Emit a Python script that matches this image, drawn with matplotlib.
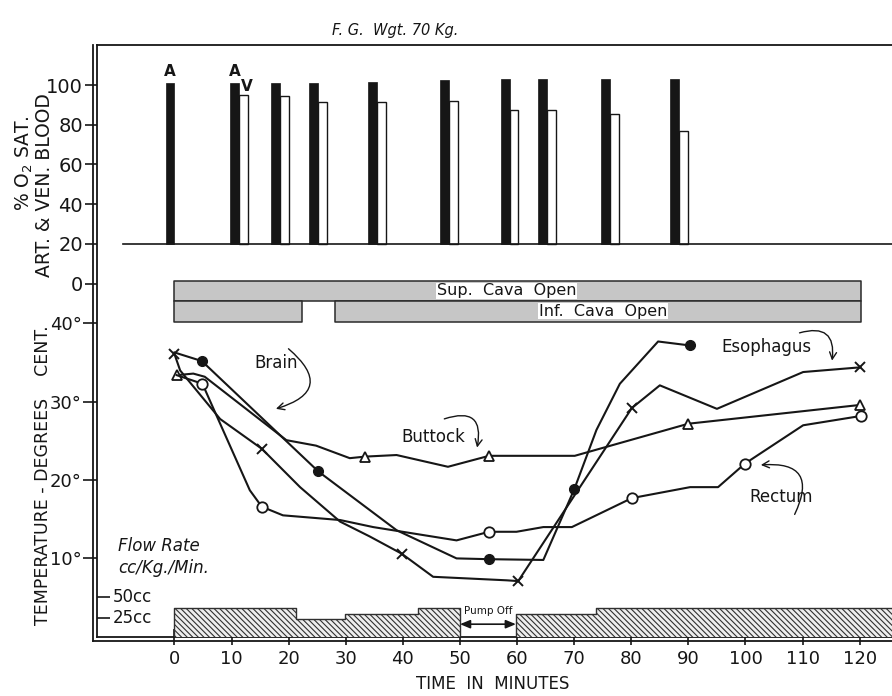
"""
Perfusion record F.G. - O2 saturation, cava status, temperatures and flow rate
"""
import numpy as np
import matplotlib.pyplot as plt

# O2 saturation samples, time in minutes and % saturation
O2_TIMES = [0, 11.3, 18.5, 25.1, 35.5, 48.1, 58.7, 65.2, 76.3, 88.3]
ART_SAT = [101.0, 101.0, 101.2, 101.2, 101.7, 102.5, 102.9, 102.9, 102.9, 102.9]
VEN_SAT = [np.nan, 95.0, 94.5, 91.3, 91.3, 92.1, 87.4, 87.4, 85.2, 77.0]

# cava open periods (start, length) in minutes
SUP_CAVA_OPEN = [(0, 120.3)]
INF_CAVA_OPEN = [(0, 22.3), (28.1, 92.2)]

# temperatures in degrees C, with indices of the plotted sample marks
BRAIN_T = [0, 4.8, 25.2, 38.9, 49.4, 55.0, 64.6, 70.0, 73.9, 78.0, 84.7, 90.2]
BRAIN_C = [36.3, 35.2, 21.1, 13.6, 10.0, 9.9, 9.8, 18.8, 26.4, 32.3, 37.7, 37.2]
BRAIN_MARKS = [1, 2, 5, 7, 11]

ESOPH_T = [0, 1.0, 8.0, 15.3, 22.0, 29.0, 34.2, 39.8, 45.3, 58.2, 60.2, 80.1, 85.0, 95.0, 110.1, 120.1]
ESOPH_C = [36.1, 34.0, 27.8, 24.0, 19.1, 14.7, 12.8, 10.6, 7.65, 7.2, 7.1, 29.2, 32.1, 29.1, 33.8, 34.4]
ESOPH_MARKS = [0, 3, 7, 10, 11, 15]

BUTTOCK_T = [0.4, 3.3, 5.3, 19.6, 24.8, 30.7, 33.4, 38.9, 47.9, 55.1, 70.1, 79.8, 90.0, 120.1]
BUTTOCK_C = [33.4, 33.6, 33.2, 25.1, 24.4, 22.8, 23.0, 23.2, 21.7, 23.1, 23.1, 25.1, 27.2, 29.6]
BUTTOCK_MARKS = [0, 6, 9, 12, 13]

RECTUM_T = [0.4, 4.9, 7.7, 13.2, 15.3, 19.0, 29.0, 34.8, 49.4, 55.1, 59.9, 64.6, 69.6,
            80.1, 90.3, 95.2, 99.9, 110.1, 120.3]
RECTUM_C = [33.4, 32.3, 27.7, 18.7, 16.6, 15.5, 14.9, 14.0, 12.3, 13.4, 13.4, 14.0, 14.0,
            17.7, 19.1, 19.1, 22.1, 27.0, 28.2]
RECTUM_MARKS = [1, 4, 9, 13, 16, 18]

# pump flow, cc/Kg./Min., each value holds from its time to the next
FLOW_T = [0, 21.2, 29.9, 42.7, 50.0, 59.8, 73.9, 126.0]
FLOW_RATE = [37, 24, 30.5, 37, 0, 30, 37, 37]

TIME_TICKS = list(range(0, 121, 10))
TEMP_TICKS = [10, 20, 30, 40]
O2_TICKS = [0, 20, 40, 60, 80, 100]
FLOW_TICKS = [25, 50]

INK = '#161616'


def overlay_axes(fig, pos, ax):
    """Transparent axes on top of the main one, sharing the time scale."""
    a = fig.add_axes(pos, sharex=ax)
    a.patch.set_visible(False)
    for s in a.spines.values():
        s.set_visible(False)
    a.xaxis.set_visible(False)
    return a


def create_chart():
    fig = plt.figure(figsize=(8.92, 6.96), dpi=100)
    pos = [0.1087, 0.0852, 0.8913, 0.8501]

    ax = fig.add_axes(pos)
    ax.set_xlim(-13.57, 125.66)
    ax.set_ylim(0, 75.56)
    for side in ['left', 'bottom', 'top']:
        ax.spines[side].set_linewidth(1.3)
        ax.spines[side].set_color(INK)
    ax.spines['right'].set_visible(False)
    # double rules on left and bottom
    ax.plot([-0.005, -0.005], [-0.008, 1.0], transform=ax.transAxes, color=INK,
            lw=1.3, clip_on=False)
    ax.plot([-0.005, 1.0], [-0.008, -0.008], transform=ax.transAxes, color=INK,
            lw=1.3, clip_on=False)

    ax.set_xticks(TIME_TICKS)
    ax.set_xticklabels([str(t) for t in TIME_TICKS], fontsize=13)
    ax.tick_params(axis='x', direction='inout', length=11, width=1.2, pad=4, colors=INK)
    ax.set_yticks(TEMP_TICKS)
    ax.set_yticklabels([f'{t}°' for t in TEMP_TICKS], fontsize=13)
    ax.tick_params(axis='y', direction='out', length=10, width=1.2, pad=1, colors=INK)

    # cava status bars
    ax.broken_barh(SUP_CAVA_OPEN, (42.9, 2.5), facecolors='#c6c6c6', edgecolors='#2a2a2a', lw=1.1)
    ax.broken_barh(INF_CAVA_OPEN, (40.2, 2.7), facecolors='#c6c6c6', edgecolors='#2a2a2a', lw=1.1)
    box = dict(facecolor='white', edgecolor='none', pad=0.5)
    ax.text(58.2, 44.15, 'Sup.  Cava  Open', ha='center', va='center', fontsize=11.5,
            color=INK, bbox=box)
    ax.text(75.0, 41.55, 'Inf.  Cava  Open', ha='center', va='center', fontsize=11.5,
            color=INK, bbox=box)

    # temperature curves
    line_kw = dict(color=INK, lw=1.5, markeredgecolor=INK, clip_on=False)
    ax.plot(BRAIN_T, BRAIN_C, marker='o', ms=7, markerfacecolor=INK,
            markevery=BRAIN_MARKS, **line_kw)
    ax.plot(ESOPH_T, ESOPH_C, marker='x', ms=7, mew=1.4,
            markevery=ESOPH_MARKS, **line_kw)
    ax.plot(BUTTOCK_T, BUTTOCK_C, marker='^', ms=7.5, mew=1.3, markerfacecolor='white',
            markevery=BUTTOCK_MARKS, **line_kw)
    ax.plot(RECTUM_T, RECTUM_C, marker='o', ms=7.5, mew=1.3, markerfacecolor='white',
            markevery=RECTUM_MARKS, **line_kw)

    # labels with curled arrows
    arrow = dict(arrowstyle='->,head_length=0.5,head_width=0.25', color=INK, lw=1.0)
    ax.text(17.8, 34.9, 'Brain', ha='center', va='center', fontsize=12, color=INK)
    ax.annotate('', xy=(17.3, 29.0), xytext=(19.6, 37.0),
                arrowprops=dict(connectionstyle='arc3,rad=-0.95', **arrow))
    ax.text(45.3, 25.5, 'Buttock', ha='center', va='center', fontsize=12, color=INK)
    ax.annotate('', xy=(52.9, 23.8), xytext=(46.8, 27.7),
                arrowprops=dict(connectionstyle='arc3,rad=-0.9', **arrow))
    ax.text(103.6, 37.0, 'Esophagus', ha='center', va='center', fontsize=12, color=INK)
    ax.annotate('', xy=(115.1, 34.9), xytext=(109.0, 38.7),
                arrowprops=dict(connectionstyle='arc3,rad=-0.8', **arrow))
    ax.text(106.2, 17.8, 'Rectum', ha='center', va='center', fontsize=12, color=INK)
    ax.annotate('', xy=(102.2, 21.9), xytext=(108.4, 15.3),
                arrowprops=dict(connectionstyle='arc3,rad=0.9', **arrow))

    # O2 saturation bars
    ax2 = overlay_axes(fig, pos, ax)
    ax2.set_ylim(-177.93, 120.15)
    ax2.set_yticks(O2_TICKS)
    ax2.set_yticklabels([str(v) for v in O2_TICKS], fontsize=14)
    ax2.tick_params(axis='y', direction='out', length=9, width=1.2, pad=1, colors=INK)
    w = 1.55
    t = np.array(O2_TIMES)
    art = np.array(ART_SAT)
    ven = np.array(VEN_SAT)
    ax2.bar(t - w / 2, art - 20, bottom=20, width=w, color=INK, edgecolor=INK, lw=0.5)
    ax2.bar(t + w / 2, ven - 20, bottom=20, width=w, color='white', edgecolor=INK, lw=1.0)
    ax2.axhline(20, xmin=0.033, xmax=1.0, color=INK, lw=1.2)
    lab = dict(ha='center', va='bottom', fontsize=11, fontweight='bold', color=INK)
    ax2.text(t[0] - w / 2, art[0] + 2, 'A', **lab)
    ax2.text(t[1] - w / 2, art[1] + 2, 'A', **lab)
    ax2.text(t[1] + w * 0.9, ven[1] + 0.5, 'V', **lab)

    # flow rate
    ax3 = overlay_axes(fig, pos, ax)
    ax3.set_ylim(3.1, 707.5)
    ax3.set_yticks(FLOW_TICKS)
    ax3.set_yticklabels([])
    ax3.tick_params(axis='y', direction='in', length=9, width=1.2, colors=INK)
    ax3.text(0.02, 50, '50cc', transform=ax3.get_yaxis_transform(), ha='left', va='center',
             fontsize=12, color=INK)
    ax3.text(0.02, 25, '25cc', transform=ax3.get_yaxis_transform(), ha='left', va='center',
             fontsize=12, color=INK)
    ax3.fill_between(FLOW_T, FLOW_RATE, step='post', facecolor='#eeeeee',
                     edgecolor='#303030', hatch='\\\\\\\\\\\\', lw=1.0)
    ax3.text(54.9, 33.5, 'Pump Off', ha='center', va='center', fontsize=7.5, color=INK)
    ax3.annotate('', xy=(50.0, 18), xytext=(59.8, 18),
                 arrowprops=dict(arrowstyle='<|-|>,head_length=0.6,head_width=0.25',
                                 color=INK, lw=1.2, shrinkA=0, shrinkB=0))

    # figure texts
    fig.text(0.443, 1 - 30 / 696, 'F. G.  Wgt. 70 Kg.', ha='center', va='center',
             fontsize=10.5, style='italic', color=INK)
    fig.text(0.552, 1 - 684 / 696, 'TIME  IN  MINUTES', ha='center', va='center',
             fontsize=12, color=INK)
    fig.text(43 / 892, 1 - 475 / 696, 'TEMPERATURE - DEGREES    CENT.', rotation=90,
             ha='center', va='center', fontsize=12.5, color=INK)
    fig.text(24 / 892, 1 - 163 / 696, '% O$_2$ SAT.', rotation=90,
             ha='center', va='center', fontsize=13.5, color=INK)
    fig.text(45 / 892, 1 - 185 / 696, 'ART. & VEN. BLOOD', rotation=90,
             ha='center', va='center', fontsize=13.5, color=INK)
    fig.text(118 / 892, 1 - 557 / 696, 'Flow Rate\ncc/Kg./Min.', ha='left', va='center',
             fontsize=12, style='italic', color=INK, linespacing=1.25)
    return fig


def main():
    plt.rcParams['hatch.linewidth'] = 0.8
    plt.rcParams['hatch.color'] = '#303030'
    fig = create_chart()
    fig.savefig('out.png', dpi=100, facecolor='white')
    plt.close(fig)


if __name__ == '__main__':
    main()
